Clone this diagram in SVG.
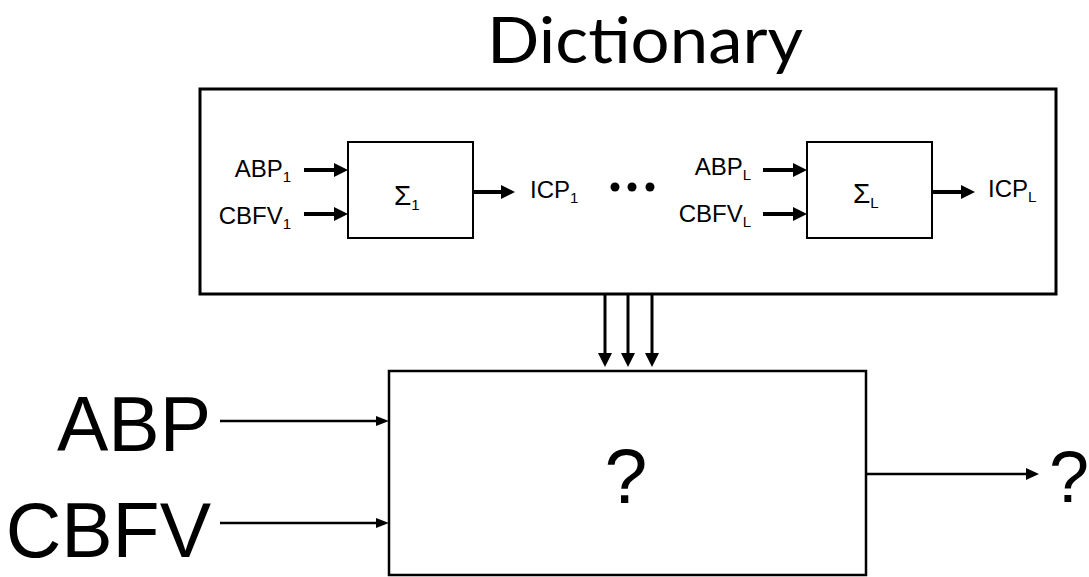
<svg xmlns="http://www.w3.org/2000/svg" width="1089" height="577" viewBox="0 0 1089 577">
<style>
.box{fill:#fff;stroke:#000}
.sm{font-family:"Liberation Sans",Arial,sans-serif;font-size:24px;fill:#000}
.sig{font-size:28px}
.sub{font-size:15px}
.big{font-family:"Liberation Sans",Arial,sans-serif;font-size:77px;fill:#000}
.title{font-family:Lato,"Open Sans",sans-serif;font-size:63px;fill:#000}
.thick{stroke:#000;stroke-width:4;fill:none}
.thin{stroke:#000;stroke-width:2.5;fill:none}
.mid{stroke:#000;stroke-width:3;fill:none}
</style>
<rect width="1089" height="577" fill="#fff"/>
<g id="title"><text class="title" x="645" y="63" text-anchor="middle" textLength="316" lengthAdjust="spacingAndGlyphs">Dictionary</text></g>
<g id="dictionary"><rect class="box" x="200" y="89" width="856" height="205" stroke-width="3"/></g>
<g id="sigma1">
<rect class="box" x="348" y="142" width="125" height="96" stroke-width="2"/>
<text class="sm" x="394" y="205"><tspan class="sig">Σ</tspan><tspan class="sub" dy="5">1</tspan></text>
</g>
<g id="sigmaL">
<rect class="box" x="807" y="142" width="125" height="96" stroke-width="2"/>
<text class="sm" x="853" y="203"><tspan class="sig">Σ</tspan><tspan class="sub" dy="5">L</tspan></text>
</g>
<g id="labels-small">
<text class="sm" x="291" y="177" text-anchor="end">ABP<tspan class="sub" dy="5">1</tspan></text>
<text class="sm" x="291" y="224" text-anchor="end">CBFV<tspan class="sub" dy="5">1</tspan></text>
<text class="sm" x="530" y="198">ICP<tspan class="sub" dy="5">1</tspan></text>
<text class="sm" x="751" y="175" text-anchor="end">ABP<tspan class="sub" dy="5">L</tspan></text>
<text class="sm" x="751" y="222" text-anchor="end">CBFV<tspan class="sub" dy="5">L</tspan></text>
<text class="sm" x="988" y="197">ICP<tspan class="sub" dy="5">L</tspan></text>
</g>
<g id="ellipsis">
<circle cx="615" cy="187" r="4.5"/>
<circle cx="632" cy="187" r="4.5"/>
<circle cx="650" cy="187" r="4.5"/>
</g>
<g id="main">
<rect class="box" x="389" y="371" width="477" height="204" stroke-width="2.5"/>
<text class="big" x="626" y="503" text-anchor="middle">?</text>
</g>
<g id="labels-big">
<text class="big" x="211" y="451" text-anchor="end">ABP</text>
<text class="big" x="211" y="557" text-anchor="end">CBFV</text>
<text class="big" x="1049" y="502" style="font-size:72px">?</text>
</g>
<g id="connectors">
<line class="thick" x1="304" y1="170" x2="336" y2="170"/><path d="M334,163 L348,170 L334,177 Z"/>
<line class="thick" x1="304" y1="214" x2="336" y2="214"/><path d="M334,207 L348,214 L334,221 Z"/>
<line class="thick" x1="473" y1="192" x2="503" y2="192"/><path d="M501,185 L515,192 L501,199 Z"/>
<line class="thick" x1="763" y1="170" x2="795" y2="170"/><path d="M793,163 L807,170 L793,177 Z"/>
<line class="thick" x1="763" y1="214" x2="795" y2="214"/><path d="M793,207 L807,214 L793,221 Z"/>
<line class="thick" x1="932" y1="192" x2="963" y2="192"/><path d="M961,185 L975,192 L961,199 Z"/>
<line class="mid" x1="605" y1="294" x2="605" y2="355"/><path d="M598,353 L605,367 L612,353 Z"/>
<line class="mid" x1="628" y1="294" x2="628" y2="355"/><path d="M621,353 L628,367 L635,353 Z"/>
<line class="mid" x1="652" y1="294" x2="652" y2="355"/><path d="M645,353 L652,367 L659,353 Z"/>
<line class="thin" x1="220" y1="421" x2="378" y2="421"/><path d="M376,416 L389,421 L376,426 Z"/>
<line class="thin" x1="220" y1="523" x2="378" y2="523"/><path d="M376,518 L389,523 L376,528 Z"/>
<line class="thin" x1="866" y1="474" x2="1028" y2="474"/><path d="M1026,468 L1039,474 L1026,480 Z"/>
</g>
</svg>
